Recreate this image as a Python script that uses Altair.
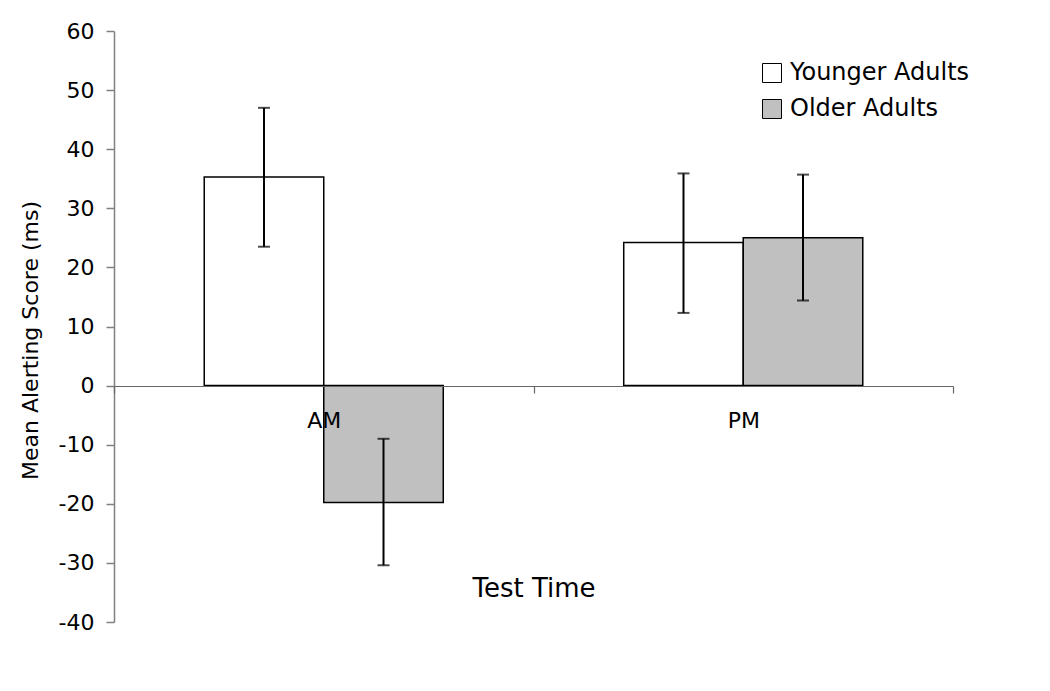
import altair as alt
import pandas as pd

# Data
times = ["AM", "AM", "PM", "PM"]
groups = ["Younger Adults", "Older Adults", "Younger Adults", "Older Adults"]
means = [35.3, -19.8, 24.2, 25.0]
lowers = [23.5, -30.4, 12.3, 14.4]
uppers = [47.0, -9.0, 35.9, 35.7]

group_order = ["Younger Adults", "Older Adults"]
group_colors = ["#FFFFFF", "#C0C0C0"]
y_ticks = [-40, -30, -20, -10, 0, 10, 20, 30, 40, 50, 60]

df = pd.DataFrame({"time": times, "group": groups, "mean": means,
                   "lower": lowers, "upper": uppers})

FONT = "DejaVu Sans"

x_enc = alt.X(
    "time:N",
    scale=alt.Scale(paddingInner=0, paddingOuter=0),
    axis=alt.Axis(
        title="Test Time", offset=-236, labelAngle=0, labelFontSize=22,
        labelColor="black", labelPadding=17, tickSize=7, tickBand="extent",
        domainColor="#666666", tickColor="#666666", domainWidth=1.2, tickWidth=1.2,
        titleFontSize=26, titleFontWeight="normal", titleColor="black",
        titleY=202, titleBaseline="middle", titleFont=FONT, labelFont=FONT,
        zindex=1,
    ),
)
xoff_enc = alt.XOffset("group:N", sort=group_order,
                       scale=alt.Scale(domain=group_order, paddingInner=0, paddingOuter=0.755))
y_scale = alt.Scale(domain=[-40, 60], nice=False, zero=False)

bars = alt.Chart(df).mark_bar(stroke="black", strokeWidth=1.5).encode(
    x=x_enc,
    xOffset=xoff_enc,
    y=alt.Y(
        "mean:Q", scale=y_scale,
        axis=alt.Axis(
            title="Mean Alerting Score (ms)", values=y_ticks, grid=False,
            labelExpr="'' + datum.value",
            labelFontSize=22, labelColor="black", labelPadding=12, tickSize=8,
            domainColor="#808080", tickColor="#808080", domainWidth=1.5, tickWidth=1.5,
            titleFontSize=22, titleFontWeight="normal", titleColor="black",
            titleX=-84, titleY=309, titleAlign="center", titleBaseline="middle",
            titleFont=FONT, labelFont=FONT,
        ),
    ),
    color=alt.Color(
        "group:N", sort=group_order,
        scale=alt.Scale(domain=group_order, range=group_colors),
        legend=alt.Legend(
            title=None, orient="none", legendX=646, legendY=30,
            symbolType="square", symbolSize=361, symbolStrokeColor="black",
            symbolStrokeWidth=1, symbolOpacity=1, labelFontSize=24, labelFont=FONT,
            labelColor="black", labelOffset=6, rowPadding=12, labelLimit=400,
        ),
    ),
)

rules = alt.Chart(df).mark_rule(color="black", strokeWidth=2).encode(
    x="time:N", xOffset=xoff_enc,
    y=alt.Y("lower:Q", scale=y_scale), y2="upper:Q",
)
caps_low = alt.Chart(df).mark_tick(color="black", size=12, thickness=2, orient="horizontal").encode(
    x="time:N", xOffset=xoff_enc, y=alt.Y("lower:Q", scale=y_scale),
)
caps_high = alt.Chart(df).mark_tick(color="black", size=12, thickness=2, orient="horizontal").encode(
    x="time:N", xOffset=xoff_enc, y=alt.Y("upper:Q", scale=y_scale),
)

chart = alt.layer(bars, rules, caps_low, caps_high).properties(
    width=839, height=591,
    autosize=alt.AutoSizeParams(type="none"),
    padding={"left": 106, "top": 23, "right": 89, "bottom": 61},
).configure(font=FONT, background="white").configure_view(stroke=None, strokeWidth=0)

chart.save("out.html", embed_options={"renderer": "svg", "actions": False})
